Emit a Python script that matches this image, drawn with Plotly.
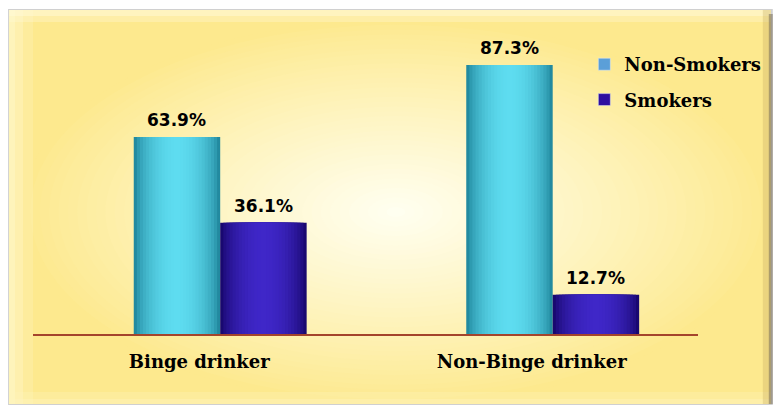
import plotly.graph_objects as go

# ---- data ----
categories = ["Binge drinker", "Non-Binge drinker"]
series_names = ["Non-Smokers", "Smokers"]
non_smokers = [63.9, 87.3]
smokers = [36.1, 12.7]
legend_colors = ["#5b9fd8", "#2e0fa0"]

# ---- style / layout constants ----
W, H = 778, 409
ML, MR, MT, MB = 33, 78, 20, 75
PW, PH = W - ML - MR, H - MT - MB
Y_MAX = PH / 3.081

bar_w = 0.26
offsets = [-0.067, 0.193]
cyl = [("#228aa0", "#5edcf0"), ("#190870", "#3f27c8")]


def hx(c):
    c = c.lstrip("#")
    return [int(c[i:i + 2], 16) for i in (0, 2, 4)]


def mix(a, b, t):
    a, b = hx(a), hx(b)
    return "rgb({},{},{})".format(*[round(a[i] + (b[i] - a[i]) * t) for i in range(3)])


def px_x(p):
    return (p - ML) / PW


def px_y(p):
    return 1 - (p - MT) / PH


fig = go.Figure()

series_vals = [non_smokers, smokers]
N = 14
for s, vals in enumerate(series_vals):
    xs = [i + offsets[s] for i in range(len(categories))]
    edge, center = cyl[s]
    for k in range(N):
        f = 1 - k / N
        t = (1 - f ** 2) ** 0.8
        fig.add_trace(go.Bar(
            x=xs, y=vals, width=bar_w * f,
            marker=dict(color=mix(edge, center, t), line=dict(width=0)),
            showlegend=False, hoverinfo="skip",
        ))
    # data labels
    for x, v in zip(xs, vals):
        fig.add_annotation(
            x=x, y=v, text=f"{v}%", showarrow=False, yanchor="middle", yshift=17,
            font=dict(family="DejaVu Sans", size=17, color="black", weight="bold"),
        )

# legend entries
for s, name in enumerate(series_names):
    fig.add_trace(go.Bar(
        x=[None], y=[None], name=name, legendgroup=name,
        marker=dict(color=legend_colors[s]),
    ))


def rect(xa, ya, xb, yb, color):
    return dict(type="rect", xref="paper", yref="paper",
                x0=px_x(xa), x1=px_x(xb), y0=px_y(yb), y1=px_y(ya),
                fillcolor=color, line=dict(width=0), layer="below")


# ---- background panel ----
shapes = []
x0, y0, x1, y1 = 9, 10, 773, 404
shapes.append(rect(x0 - 1, y0 - 1, x1 + 2, y1 + 1, "#d0d0d0"))
shapes.append(rect(x0, y0, x1, y1, "#fde98e"))
cx, cy = 397, 212
rx, ry = min(cx - x0, x1 - cx), min(cy - y0, y1 - cy)
R = 40
for k in range(R):
    f = 1 - k / R
    t = (1 - f) ** 0.9
    shapes.append(dict(type="circle", xref="paper", yref="paper",
                       x0=px_x(cx - rx * f), x1=px_x(cx + rx * f),
                       y0=px_y(cy + ry * f), y1=px_y(cy - ry * f),
                       fillcolor=mix("#fde98e", "#fffff2", t), line=dict(width=0),
                       layer="below"))
# bevel strips
for w, a in [(24, 0.25), (14, 0.35), (6, 0.45)]:
    shapes.append(rect(x0, y0, x0 + w, y1, f"rgba(255,248,205,{a})"))
for w, a in [(12, 0.35), (6, 0.5)]:
    shapes.append(rect(x0, y0, x1, y0 + w, f"rgba(255,250,215,{a})"))
for w, a in [(12, 0.3), (5, 0.4)]:
    shapes.append(rect(x0, y1 - w, x1, y1, f"rgba(255,244,190,{a})"))
shapes.append(rect(x1 - 8, y0, x1, y1, "rgba(200,175,100,0.35)"))
shapes.append(rect(x1 - 2, y0 + 4, x1 + 2, y1, "rgba(120,110,90,0.55)"))

fig.update_layout(
    width=W, height=H,
    margin=dict(l=ML, r=MR, t=MT, b=MB),
    paper_bgcolor="white", plot_bgcolor="rgba(0,0,0,0)",
    barmode="overlay",
    shapes=shapes,
    showlegend=True,
    legend=dict(
        x=px_x(586), y=px_y(46), xanchor="left", yanchor="top",
        bgcolor="rgba(0,0,0,0)", traceorder="grouped", tracegroupgap=9,
        font=dict(family="DejaVu Serif", size=18, color="black", weight="bold"),
    ),
    xaxis=dict(
        range=[-0.5, 1.5], tickvals=[0, 1], ticktext=categories,
        showgrid=False, zeroline=False, showline=True,
        linecolor="#a4442c", linewidth=2,
        ticks="outside", ticklen=10, tickcolor="rgba(0,0,0,0)",
        tickfont=dict(family="DejaVu Serif", size=18, color="black", weight="bold"),
        fixedrange=True,
    ),
    yaxis=dict(range=[0, Y_MAX], visible=False, fixedrange=True),
)

fig.write_html(
    "out.html",
    config={"displayModeBar": False},
    post_script="document.body.style.margin='0';document.body.style.overflow='hidden';",
)
